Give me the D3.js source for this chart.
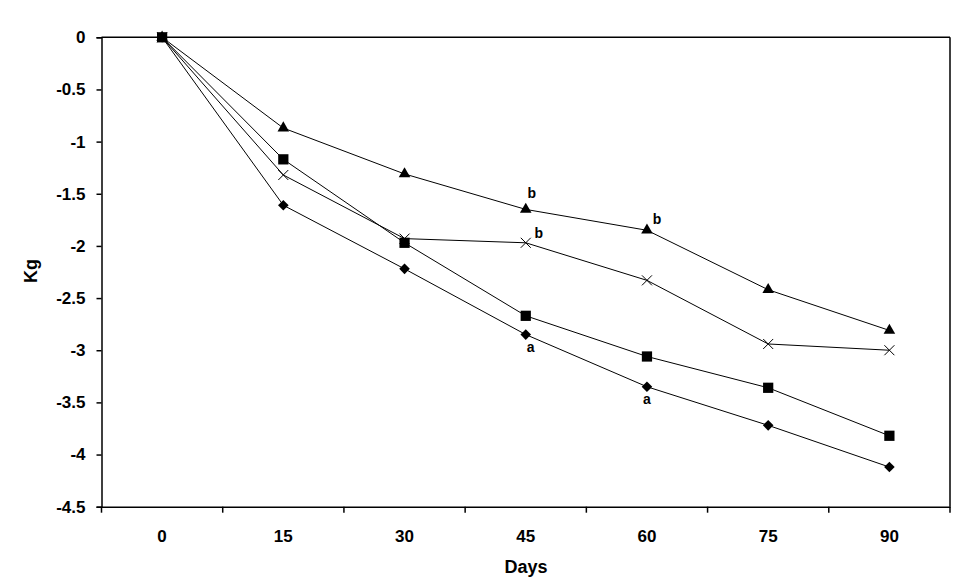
<!DOCTYPE html>
<html><head><meta charset="utf-8">
<script src="https://cdn.jsdelivr.net/npm/d3@7"></script>
<style>body{margin:0;background:#fff}svg{font-family:"Liberation Sans",Arial,sans-serif;font-weight:bold}</style>
</head><body><svg id="c" width="960" height="588"></svg>
<script>
const days = ["0","15","30","45","60","75","90"];
const yTicks = [0,-0.5,-1,-1.5,-2,-2.5,-3,-3.5,-4,-4.5];
const diamond = [0,-1.61,-2.22,-2.85,-3.35,-3.72,-4.12];
const square = [0,-1.17,-1.97,-2.67,-3.06,-3.36,-3.82];
const cross = [0,-1.32,-1.93,-1.97,-2.33,-2.94,-3.00];
const triangle = [0,-0.87,-1.31,-1.65,-1.85,-2.42,-2.81];
const notes = [
  {series:"triangle", day:"45", text:"b", dx:6, dy:-11},
  {series:"triangle", day:"60", text:"b", dx:10, dy:-6},
  {series:"cross", day:"45", text:"b", dx:13, dy:-5},
  {series:"diamond", day:"45", text:"a", dx:5, dy:17},
  {series:"diamond", day:"60", text:"a", dx:0, dy:17}
];
const seriesList = [
  {name:"diamond", values:diamond, sym:d3.symbolSquare, size:56, rot:45},
  {name:"square", values:square, sym:d3.symbolSquare, size:105, rot:0},
  {name:"cross", values:cross, sym:null, size:0, rot:0},
  {name:"triangle", values:triangle, sym:d3.symbolTriangle, size:58, rot:0}
];
const svg = d3.select("#c");
const L=101.5, R=950, T=37.3, B=506.7;
const x = d3.scaleBand().domain(days).range([L,R]);
const y = d3.scaleLinear().domain([-4.5,0]).range([B,T]);
const cx = d => x(d)+x.bandwidth()/2;
const FONT = "Liberation Sans, Arial, sans-serif";

// frame
svg.append("line").attr("x1",L).attr("x2",R).attr("y1",T).attr("y2",T).attr("stroke","#000").attr("stroke-width",1.5);
svg.append("line").attr("x1",R).attr("x2",R).attr("y1",T).attr("y2",B).attr("stroke","#000").attr("stroke-width",1.5);

const ya = svg.append("g").attr("transform",`translate(${L},0)`)
  .call(d3.axisLeft(y).tickValues(yTicks).tickSize(5).tickPadding(11).tickFormat(d=>d===0?"0":String(d)));
const xa = svg.append("g").attr("transform",`translate(0,${B})`)
  .call(d3.axisBottom(x).tickSize(0).tickPadding(0));
[ya,xa].forEach(g=>{g.select(".domain").attr("stroke","#000").attr("stroke-width",1.5);
  g.selectAll("text").attr("font-size",17).attr("font-weight","bold").attr("font-family",FONT).attr("fill","#000");});
ya.selectAll("line").attr("stroke","#000").attr("stroke-width",1.5);
xa.selectAll("text").attr("dy",null).attr("y",35);
// x ticks at band boundaries
const bounds = days.map(d=>x(d)).concat([R]);
svg.append("g").selectAll("line").data(bounds).join("line")
  .attr("x1",d=>d).attr("x2",d=>d).attr("y1",B).attr("y2",B+6).attr("stroke","#000").attr("stroke-width",1.5);

const line = d3.line().x((v,i)=>cx(days[i])).y(v=>y(v));
seriesList.forEach(s=>{
  svg.append("path").attr("d",line(s.values)).attr("fill","none").attr("stroke","#000").attr("stroke-width",1);
});
seriesList.forEach(s=>{
  const g = svg.append("g");
  s.values.forEach((v,i)=>{
    const px=cx(days[i]), py=y(v);
    if(s.sym){
      g.append("path").attr("d",d3.symbol().type(s.sym).size(s.size)()).attr("transform",`translate(${px},${py}) rotate(${s.rot})`).attr("fill","#000");
    } else {
      const r=5;
      g.append("path").attr("d",`M${px-r},${py-r}L${px+r},${py+r}M${px-r},${py+r}L${px+r},${py-r}`).attr("stroke","#000").attr("stroke-width",1);
    }
  });
});
const byName = Object.fromEntries(seriesList.map(s=>[s.name,s.values]));
svg.append("g").selectAll("text").data(notes).join("text")
  .attr("x",d=>cx(d.day)+d.dx).attr("y",d=>y(byName[d.series][days.indexOf(d.day)])+d.dy)
  .attr("text-anchor","middle").attr("font-size",14).attr("font-weight","bold").text(d=>d.text);

svg.append("text").attr("transform",`translate(37,271) rotate(-90)`).attr("text-anchor","middle")
  .attr("font-size",18).attr("font-weight","bold").text("Kg");
svg.append("text").attr("x",526).attr("y",573).attr("text-anchor","middle")
  .attr("font-size",18).attr("font-weight","bold").text("Days");
</script></body></html>
